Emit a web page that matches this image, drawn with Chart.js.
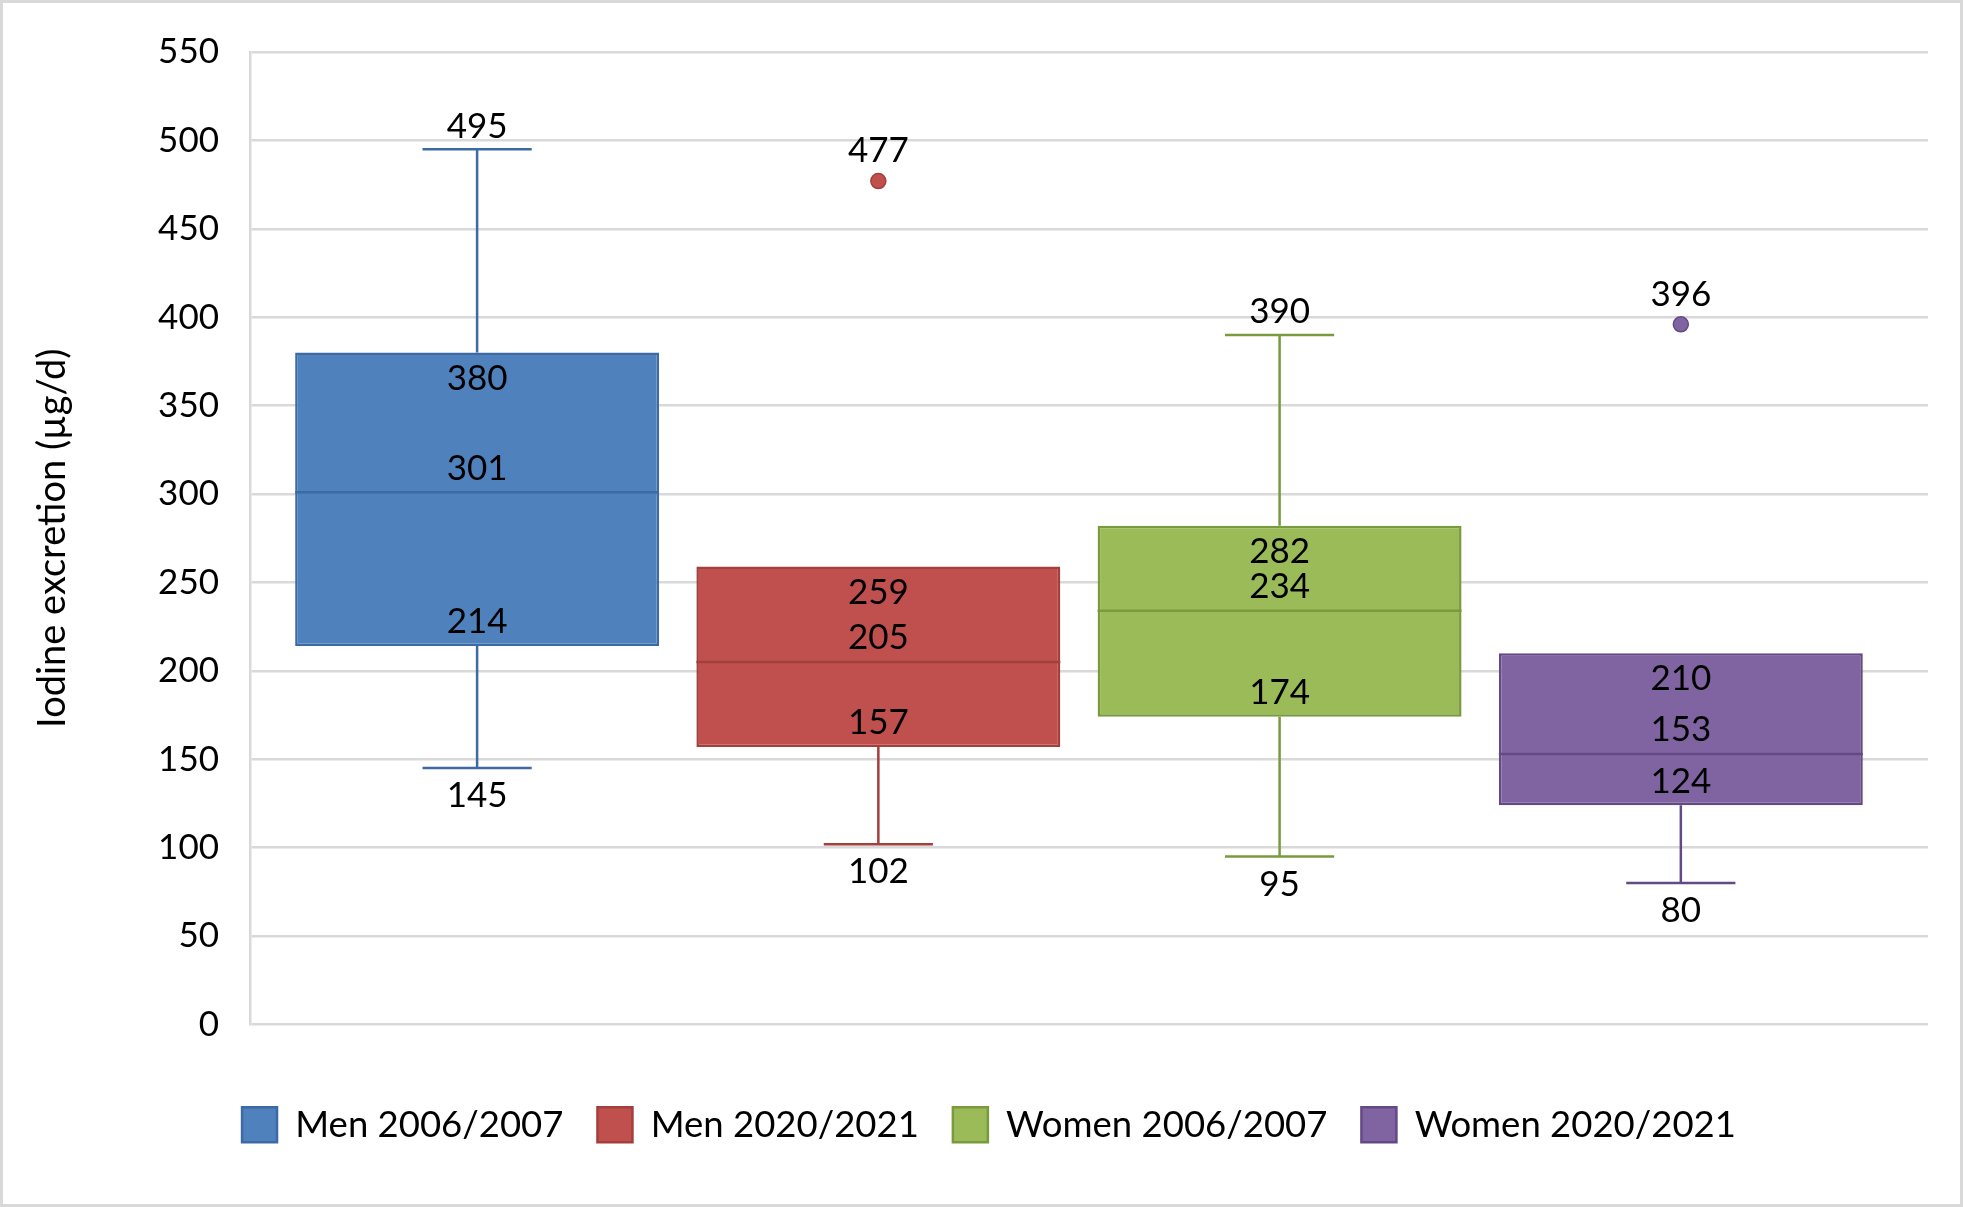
<!DOCTYPE html>
<html>
<head>
<meta charset="utf-8">
<title>Iodine excretion</title>
<script src="https://cdn.jsdelivr.net/npm/chart.js@4.4.1/dist/chart.umd.min.js"></script>
<style>
  html, body { margin: 0; padding: 0; background: #fff; }
  .chart-wrap { position: relative; width: 1963px; height: 1207px; }
</style>
</head>
<body>
<div class="chart-wrap"><canvas id="chart"></canvas></div>
<script>
// data
const groups = ['Men 2006/2007', 'Men 2020/2021', 'Women 2006/2007', 'Women 2020/2021'];
const whiskerLow = [145, 102, 95, 80];
const quartile1 = [214, 157, 174, 124];
const medians = [301, 205, 234, 153];
const quartile3 = [380, 259, 282, 210];
const whiskerHigh = [495, 259, 390, 210];
const outliers = [null, 477, null, 396];
const yTicks = [0, 50, 100, 150, 200, 250, 300, 350, 400, 450, 500, 550];

const fills = ['#4f81bd', '#c0504d', '#9bbb59', '#8064a2'];
const lines = ['#3d6aa5', '#a33f3c', '#7a9a3e', '#634a85'];
const FONT = 'Lato';

/**
 * whiskers, medians, value labels and frame
 */
const boxPlugin = {
  id: 'boxParts',
  beforeDraw: (chart) => {
    const ctx = chart.ctx;
    ctx.save();
    ctx.fillStyle = '#fff';
    ctx.fillRect(0, 0, chart.width, chart.height);
    ctx.restore();
  },
  afterDatasetsDraw: (chart) => {
    const ctx = chart.ctx,
      xs = chart.scales.x,
      ys = chart.scales.y;

    ctx.save();
    groups.forEach((g, i) => {
      const bar = chart.getDatasetMeta(i).data[0],
        cx = xs.getPixelForValue(i),
        capW = bar.width * 0.3;

      ctx.strokeStyle = lines[i];
      ctx.lineWidth = 2.5;

      // whiskers
      const segs = [[quartile3[i], whiskerHigh[i]], [quartile1[i], whiskerLow[i]]];
      segs.forEach(([from, to]) => {
        if (from === to) return;
        const y0 = ys.getPixelForValue(from),
          y1 = ys.getPixelForValue(to);
        ctx.beginPath();
        ctx.moveTo(cx, y0);
        ctx.lineTo(cx, y1);
        ctx.moveTo(cx - capW / 2, y1);
        ctx.lineTo(cx + capW / 2, y1);
        ctx.stroke();
      });

      // median
      const ym = ys.getPixelForValue(medians[i]);
      ctx.beginPath();
      ctx.moveTo(bar.x - bar.width / 2, ym);
      ctx.lineTo(bar.x + bar.width / 2, ym);
      ctx.stroke();

      // labels
      ctx.fillStyle = '#000';
      ctx.font = '35px ' + FONT;
      ctx.textAlign = 'center';
      ctx.textBaseline = 'middle';
      const put = (v, dy) => ctx.fillText(String(v), cx, ys.getPixelForValue(v) + dy);
      if (whiskerHigh[i] > quartile3[i]) put(whiskerHigh[i], -23);
      put(quartile3[i], 26);
      put(medians[i], -24);
      put(quartile1[i], -24);
      put(whiskerLow[i], 28);
      if (outliers[i] !== null) put(outliers[i], -30);
    });

    // outer frame
    ctx.strokeStyle = '#d9d9d9';
    ctx.lineWidth = 3;
    ctx.strokeRect(1.5, 1.5, chart.width - 3, chart.height - 3);
    ctx.restore();
  }
};

const initChart = () => {
  const barSets = groups.map((g, i) => ({
    type: 'bar',
    label: g,
    data: [{ x: i, y: [quartile1[i], quartile3[i]] }],
    backgroundColor: fills[i],
    borderColor: lines[i],
    borderWidth: 2.5,
    borderSkipped: false,
    grouped: false,
    categoryPercentage: 1,
    barPercentage: 0.907
  }));

  const outlierSet = {
    type: 'scatter',
    label: 'outliers',
    data: outliers.map((v, i) => v === null ? null : { x: i, y: v }).filter((p) => p),
    pointRadius: 7.5,
    pointBackgroundColor: outliers.map((v, i) => fills[i]).filter((c, i) => outliers[i] !== null),
    pointBorderColor: outliers.map((v, i) => lines[i]).filter((c, i) => outliers[i] !== null),
    pointBorderWidth: 1.5
  };

  new Chart(document.getElementById('chart'), {
    type: 'bar',
    data: { datasets: [...barSets, outlierSet] },
    options: {
      responsive: true,
      maintainAspectRatio: false,
      animation: false,
      layout: { padding: { left: 15, right: 0, top: 50, bottom: 54 } },
      plugins: {
        tooltip: { enabled: false },
        legend: {
          position: 'bottom',
          labels: {
            filter: (item) => item.datasetIndex < groups.length,
            boxWidth: 35,
            boxHeight: 35,
            padding: 34,
            color: '#000',
            font: { family: FONT, size: 36.5 }
          }
        }
      },
      scales: {
        x: {
          type: 'linear',
          offset: false,
          bounds: 'data',
          min: -0.566,
          max: 3.616,
          grid: { display: false, offset: false },
          border: { display: false },
          ticks: { display: false },
          afterBuildTicks: (scale) => {
            scale.ticks = groups.map((g, i) => ({ value: i }));
          },
          afterFit: (scale) => {
            scale.height = 48;
          }
        },
        y: {
          min: 0,
          max: 550,
          afterBuildTicks: (scale) => {
            scale.ticks = yTicks.map((v) => ({ value: v }));
          },
          afterFit: (scale) => {
            scale.width = 235;
          },
          grid: { color: '#d9d9d9', lineWidth: 2.5, drawTicks: false },
          border: { color: '#d9d9d9', width: 2.5 },
          ticks: {
            color: '#000',
            padding: 31,
            font: { family: FONT, size: 35 }
          },
          title: {
            display: true,
            text: 'Iodine excretion (µg/d)',
            color: '#000',
            padding: { top: 15, bottom: 0 },
            font: { family: FONT, size: 38 }
          }
        },
        // empty strip on the right side of the plot
        yRight: {
          position: 'right',
          grid: { display: false },
          border: { display: false },
          ticks: { display: false },
          afterFit: (scale) => {
            scale.width = 35;
          }
        }
      }
    },
    plugins: [boxPlugin]
  });
};

initChart();
</script>
</body>
</html>
